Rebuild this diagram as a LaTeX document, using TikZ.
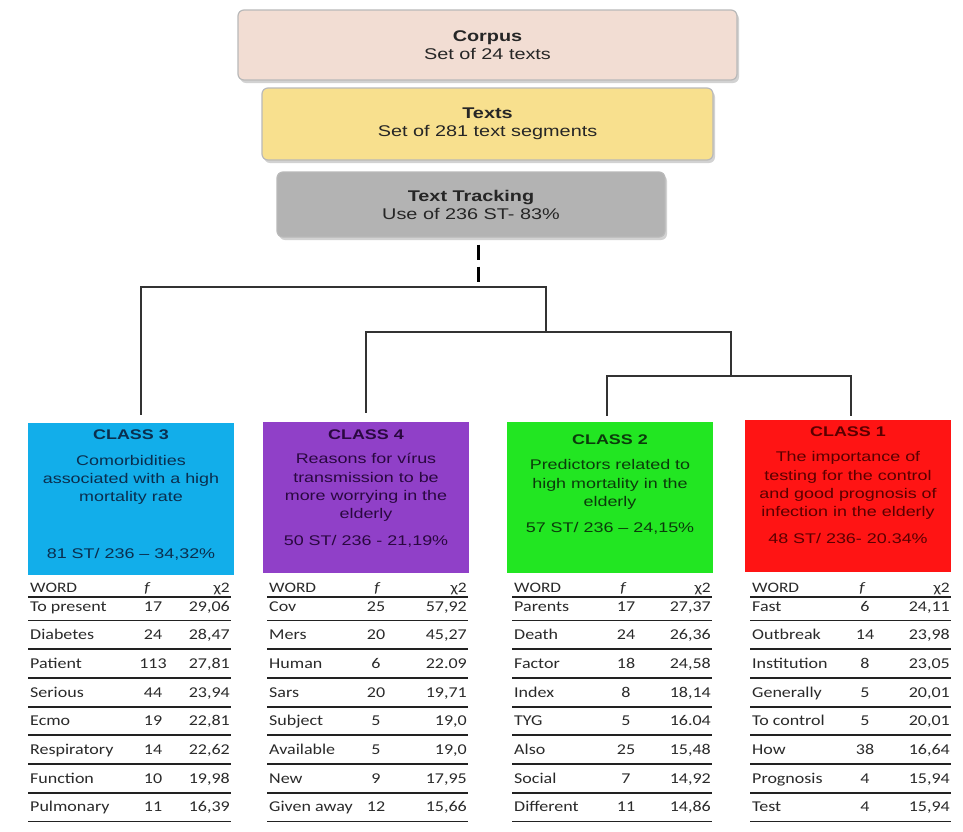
\documentclass[tikz,border=0pt]{standalone}
\usepackage{fontspec}
\setmainfont{Liberation Sans}[FakeStretch=1.28]
\newfontfamily\tabfont{Carlito}[FakeStretch=1.2]
\usetikzlibrary{shadows}
\definecolor{corpusfill}{HTML}{F2DDD3}
\definecolor{textsfill}{HTML}{F8E08E}
\definecolor{trackfill}{HTML}{B3B3B3}
\definecolor{cthreefill}{HTML}{12AEEA}
\definecolor{cfourfill}{HTML}{9040C8}
\definecolor{ctwofill}{HTML}{22E622}
\definecolor{conefill}{HTML}{FF1414}
\definecolor{cthreetext}{HTML}{0A2E4E}
\definecolor{cfourtext}{HTML}{2A0840}
\definecolor{ctwotext}{HTML}{0B3B0B}
\definecolor{conetext}{HTML}{5A0000}
\definecolor{treegray}{HTML}{333333}
\definecolor{rulegray}{HTML}{222222}
\definecolor{celltext}{HTML}{2A2A2A}

\newcommand\wordtable[6]{%
  \node[hdrcell, anchor=base west] (#1-hw) at (#2+2,592) {WORD};
  \node[hdrcell, anchor=base] (#1-hf) at (#5,592) {\itshape f};
  \node[hdrcell, anchor=base east] (#1-hc) at (#4-1,592) {χ2};
  \draw[hdrrule] (#2,597) -- (#4,597);
  \foreach \w/\f/\c [count=\i from 0] in {#6}{
    \pgfmathsetmacro\by{611+28.7*\i}
    \node[cell, anchor=base west] (#1-w\i) at (#2+2,\by) {\w};
    \node[cell, anchor=base] (#1-f\i) at (#3,\by) {\f};
    \node[cell, anchor=base east] (#1-c\i) at (#4-1,\by) {\c};
    \draw[rowrule] (#2,\by+9.5) -- (#4,\by+9.5);
  }%
}

\begin{document}
\begin{tikzpicture}[x=1pt,y=-1pt,
  topbox/.style={draw=gray!55, line width=1.2pt, rounded corners=6pt, align=center,
    text=black!85, font=\fontsize{15.5}{18}\selectfont,
    drop shadow={shadow xshift=2pt, shadow yshift=-3pt, opacity=0.35, fill=gray}},
  classbox/.style={rectangle, draw=none, inner sep=0pt, minimum width=206pt},
  ctitle/.style={font=\bfseries\fontsize{14}{18.2}\selectfont, inner sep=0pt},
  cbody/.style={font=\fontsize{14}{18.2}\selectfont, align=center, inner sep=0pt},
  tree/.style={draw=treegray, line width=2pt},
  dashline/.style={draw=black, line width=3pt, dash pattern=on 15pt off 7pt},
  cell/.style={font=\tabfont\fontsize{15}{17}\selectfont, text=celltext, inner sep=0pt},
  hdrcell/.style={font=\tabfont\fontsize{14.5}{17}\selectfont, text=celltext, inner sep=0pt},
  hdrrule/.style={draw=rulegray, line width=2.4pt},
  rowrule/.style={draw=rulegray, line width=1.8pt}
]
\fill[white] (0,0) rectangle (963,831);
\useasboundingbox (0,0) rectangle (963,831);

% top boxes
\node[topbox, fill=corpusfill, minimum width=499pt, minimum height=70pt] (corpus) at (487.5,45)
  {\textbf{Corpus}\\Set of 24 texts};
\node[topbox, fill=textsfill, minimum width=451pt, minimum height=72pt] (texts) at (487.5,124)
  {\textbf{Texts}\\Set of 281 text segments};
\node[topbox, fill=trackfill, minimum width=388pt, minimum height=65pt] (track) at (471,204.5)
  {\textbf{Text Tracking}\\Use of 236 ST- 83\%};

% class boxes
\node[classbox, fill=cthreefill, minimum height=152pt] (c3) at (131,499) {};
\node[classbox, fill=cfourfill, minimum height=151pt] (c4) at (366,497.5) {};
\node[classbox, fill=ctwofill, minimum height=151pt] (c2) at (610,497.5) {};
\node[classbox, fill=conefill, minimum height=152pt] (c1) at (848,496) {};

\node[ctitle, text=cthreetext] (c3t) at (131,435) {CLASS 3};
\node[cbody, text=cthreetext] (c3b) at (131,480) {Comorbidities\\associated with a high\\mortality rate};
\node[cbody, text=cthreetext] (c3s) at (131,554) {81 ST/ 236 – 34,32\%};

\node[ctitle, text=cfourtext] (c4t) at (366,435) {CLASS 4};
\node[cbody, text=cfourtext] (c4b) at (366,487.5) {Reasons for vírus\\transmission to be\\more worrying in the\\elderly};
\node[cbody, text=cfourtext] (c4s) at (366,541) {50 ST/ 236 - 21,19\%};

\node[ctitle, text=ctwotext] (c2t) at (610,440) {CLASS 2};
\node[cbody, text=ctwotext] (c2b) at (610,484.5) {Predictors related to\\high mortality in the\\elderly};
\node[cbody, text=ctwotext] (c2s) at (610,528) {57 ST/ 236 – 24,15\%};

\node[ctitle, text=conetext] (c1t) at (848,432) {CLASS 1};
\node[cbody, text=conetext] (c1b) at (848,485.5) {The importance of\\testing for the control\\and good prognosis of\\infection in the elderly};
\node[cbody, text=conetext] (c1s) at (848,538) {48 ST/ 236- 20.34\%};

% tree
\coordinate (j1) at (478,287);
\coordinate (a3) at (141,287);
\coordinate (b1) at (546,287);
\coordinate (b2) at (546,332);
\coordinate (a4) at (366,332);
\coordinate (e1) at (731,332);
\coordinate (e2) at (731,376);
\coordinate (a2) at (607,376);
\coordinate (a1) at (851,376);

\draw[dashline] ([yshift=-7pt]track.south -| j1) -- (j1);
\draw[tree] ([yshift=8pt]c3.north -| a3) -- (a3) -- (b1) -- (b2);
\draw[tree] ([yshift=9pt]c4.north) -- (a4) -- (e1) -- (e2);
\draw[tree] ([yshift=6pt]c2.north -| a2) -- (a2) -- (a1) -- ([yshift=4pt]c1.north -| a1);

% tables
\wordtable{t3}{28}{153}{231}{147}{To present/17/29{,}06, Diabetes/24/28{,}47, Patient/113/27{,}81, Serious/44/23{,}94, Ecmo/19/22{,}81, Respiratory/14/22{,}62, Function/10/19{,}98, Pulmonary/11/16{,}39}
\wordtable{t4}{267}{376}{468}{377}{Cov/25/57{,}92, Mers/20/45{,}27, Human/6/22.09, Sars/20/19{,}71, Subject/5/19{,}0, Available/5/19{,}0, New/9/17{,}95, Given away/12/15{,}66}
\wordtable{t2}{512}{626}{712}{623}{Parents/17/27{,}37, Death/24/26{,}36, Factor/18/24{,}58, Index/8/18{,}14, TYG/5/16.04, Also/25/15{,}48, Social/7/14{,}92, Different/11/14{,}86}
\wordtable{t1}{750}{865}{951}{862}{Fast/6/24{,}11, Outbreak/14/23{,}98, Institution/8/23{,}05, Generally/5/20{,}01, To control/5/20{,}01, How/38/16{,}64, Prognosis/4/15{,}94, Test/4/15{,}94}
\end{tikzpicture}
\end{document}
